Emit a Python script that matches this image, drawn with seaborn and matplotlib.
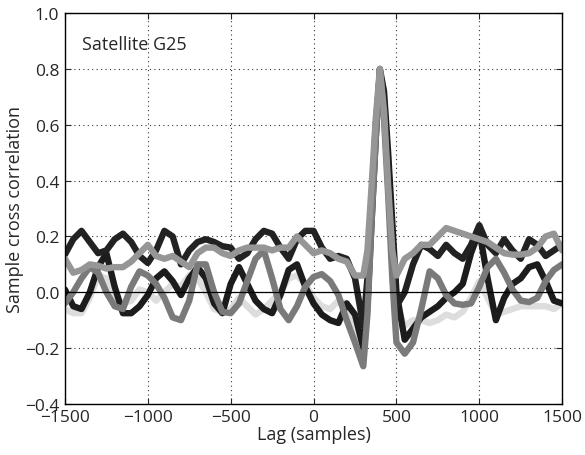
import numpy as np
import pandas as pd
import matplotlib
matplotlib.use("Agg")
import matplotlib.pyplot as plt
import seaborn as sns

lags = [-1500, -1450, -1400, -1350, -1300, -1250, -1200, -1150, -1100, -1050,
        -1000, -950, -900, -850, -800, -750, -700, -650, -600, -550,
        -500, -450, -400, -350, -300, -250, -200, -150, -100, -50,
        0, 50, 100, 150, 200, 250, 300, 325, 350, 375, 400, 425, 450, 475,
        500, 550, 600, 650, 700, 750, 800, 850, 900, 950,
        1000, 1050, 1100, 1150, 1200, 1250, 1300, 1350, 1400, 1450, 1500]

light_gray = [-0.06, -0.075, -0.075, -0.02, 0.06, 0.05, -0.02, -0.04, -0.03, 0.01,
              0.0, -0.03, 0.0, 0.03, 0.02, 0.06, 0.05, 0.0, -0.06, -0.07,
              -0.06, -0.02, -0.05, -0.08, -0.06, -0.03, 0.0, 0.05, 0.06, 0.03,
              -0.02, -0.05, -0.06, -0.03, -0.04, -0.12, -0.2, 0.0, 0.28, 0.55, 0.78, 0.7, 0.45, 0.2,
              -0.05, -0.12, -0.1, -0.1, -0.11, -0.1, -0.08, -0.09, -0.07, -0.02,
              0.04, -0.02, -0.08, -0.07, -0.06, -0.05, -0.05, -0.05, -0.05, -0.06, -0.04]

black_b = [0.01, -0.05, -0.06, 0.0, 0.09, 0.14, 0.02, -0.075, -0.075, -0.05,
           -0.01, 0.05, 0.075, 0.04, -0.01, 0.05, 0.09, 0.05, -0.04, -0.075,
           0.03, 0.09, 0.03, -0.03, -0.06, -0.075, -0.01, 0.08, 0.1, 0.02,
           -0.04, -0.08, -0.1, -0.11, -0.04, -0.08, -0.2, -0.05, 0.25, 0.55, 0.8, 0.72, 0.5, 0.25,
           0.0, -0.17, -0.13, -0.09, -0.07, -0.05, -0.02, 0.0, 0.03, 0.14,
           0.22, 0.05, -0.1, -0.02, 0.03, 0.05, 0.09, 0.1, 0.04, -0.03, -0.04]

black_a = [0.135, 0.19, 0.22, 0.18, 0.14, 0.15, 0.19, 0.21, 0.18, 0.13,
           0.105, 0.15, 0.22, 0.2, 0.1, 0.15, 0.18, 0.19, 0.18, 0.165,
           0.16, 0.12, 0.14, 0.19, 0.22, 0.21, 0.16, 0.12, 0.19, 0.22,
           0.22, 0.16, 0.12, 0.13, 0.12, 0.05, -0.12, 0.05, 0.32, 0.6, 0.78, 0.68, 0.42, 0.15,
           -0.05, 0.0, 0.1, 0.17, 0.155, 0.13, 0.17, 0.14, 0.12, 0.17,
           0.24, 0.17, 0.14, 0.19, 0.15, 0.12, 0.19, 0.17, 0.13, 0.15, 0.17]

mid_gray = [-0.04, 0.0, 0.05, 0.09, 0.07, 0.0, -0.05, -0.06, 0.02, 0.075,
            0.06, 0.03, -0.02, -0.09, -0.1, -0.03, 0.1, 0.1, 0.0, -0.07,
            -0.075, -0.04, 0.04, 0.12, 0.15, 0.05, -0.06, -0.1, -0.05, 0.02,
            0.055, 0.065, 0.04, -0.01, -0.1, -0.18, -0.265, -0.08, 0.25, 0.55, 0.8, 0.62, 0.35, 0.05,
            -0.18, -0.22, -0.18, -0.06, 0.075, 0.05, -0.01, -0.04, -0.045, -0.04,
            0.02, 0.09, 0.12, 0.07, 0.01, -0.03, -0.035, -0.02, 0.04, 0.08, 0.1]

top_gray = [0.12, 0.07, 0.08, 0.1, 0.095, 0.085, 0.09, 0.09, 0.11, 0.14,
            0.17, 0.13, 0.12, 0.13, 0.11, 0.09, 0.14, 0.16, 0.16, 0.14,
            0.13, 0.15, 0.16, 0.16, 0.16, 0.15, 0.16, 0.16, 0.2, 0.17,
            0.14, 0.15, 0.14, 0.12, 0.11, 0.06, 0.06, 0.15, 0.38, 0.62, 0.8, 0.65, 0.38, 0.15,
            0.06, 0.12, 0.14, 0.17, 0.17, 0.2, 0.23, 0.22, 0.21, 0.2,
            0.19, 0.18, 0.16, 0.14, 0.135, 0.135, 0.14, 0.16, 0.2, 0.21, 0.15]

series = [("light", light_gray, "#dddddd"),
          ("blackb", black_b, "#1c1c1c"),
          ("blacka", black_a, "#222222"),
          ("mid", mid_gray, "#7a7a7a"),
          ("top", top_gray, "#969696")]

sns.set_style("ticks")
plt.rcParams['font.family'] = ['Open Sans', 'DejaVu Sans']
plt.rcParams['axes.unicode_minus'] = True

fig = plt.figure(figsize=(5.85, 4.56), dpi=100)
ax = fig.add_axes([0.111, 0.112, 0.850, 0.857])

for name, vals, col in series:
    df = pd.DataFrame({"lag": lags, "r": vals})
    sns.lineplot(data=df, x="lag", y="r", ax=ax, color=col, linewidth=4.6,
                 solid_joinstyle="round", solid_capstyle="round", sort=False)

ax.axhline(0, color="black", linewidth=0.9, zorder=5)

ax.set_xlim(-1500, 1500)
ax.set_ylim(-0.4, 1.0)
ax.set_xticks([-1500, -1000, -500, 0, 500, 1000, 1500])
ax.set_yticks([-0.4, -0.2, 0.0, 0.2, 0.4, 0.6, 0.8, 1.0])
ax.set_yticklabels(["\u22120.4", "\u22120.2", "0.0", "0.2", "0.4", "0.6", "0.8", "1.0"])
ax.set_xticklabels(["\u22121500", "\u22121000", "\u2212500", "0", "500", "1000", "1500"])
ax.grid(True, linestyle=(0, (1, 3)), color="black", linewidth=0.8, alpha=0.8)
ax.tick_params(direction="in", top=True, right=True, length=4, labelsize=12.5)
ax.tick_params(axis="x", pad=4)
ax.tick_params(axis="y", pad=4)
for s in ax.spines.values():
    s.set_linewidth(1.0)
    s.set_color("black")
ax.set_xlabel("Lag (samples)", fontsize=13, labelpad=0)
ax.set_ylabel("Sample cross correlation", fontsize=13, labelpad=1)
ax.text(0.035, 0.945, "Satellite G25", transform=ax.transAxes, fontsize=13,
        ha="left", va="top")

fig.savefig("out.png", dpi=100)
